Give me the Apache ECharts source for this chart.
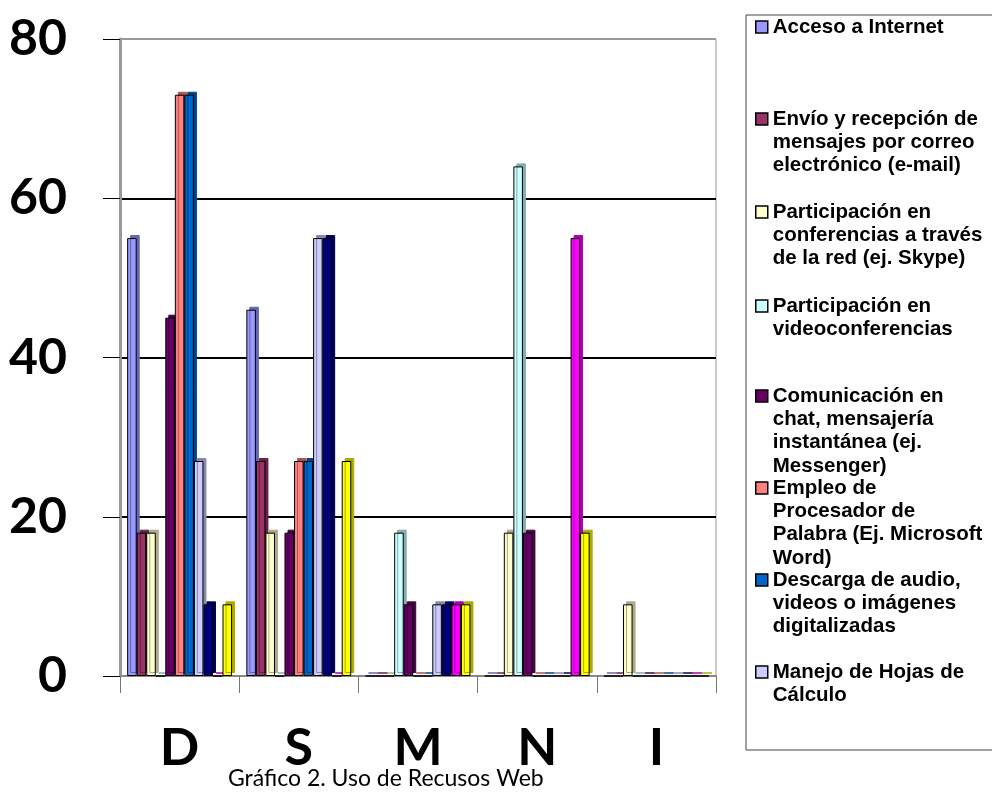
<!DOCTYPE html>
<html>
<head>
<meta charset="utf-8">
<script src="https://cdn.jsdelivr.net/npm/echarts@6/dist/echarts.min.js"></script>
<style>html,body{margin:0;padding:0;background:#fff}#c{width:992px;height:792px}</style>
</head>
<body>
<div id="c"></div>
<script>
var categories = ['D', 'S', 'M', 'N', 'I'];
var yTicks = [0, 20, 40, 60, 80];
var seriesNames = [
  'Acceso a Internet',
  'Envío y recepción de mensajes por correo electrónico (e-mail)',
  'Participación en conferencias a través de la red (ej. Skype)',
  'Participación en videoconferencias',
  'Comunicación en chat, mensajería instantánea (ej. Messenger)',
  'Empleo de Procesador de Palabra (Ej. Microsoft Word)',
  'Descarga de audio, videos o imágenes digitalizadas',
  'Manejo de Hojas de Cálculo',
  'Serie 9',
  'Serie 10',
  'Serie 11'
];
var legendLines = [
  ['Acceso a Internet'],
  ['Envío y recepción de', 'mensajes por correo', 'electrónico (e-mail)'],
  ['Participación en', 'conferencias a través', 'de la red (ej. Skype)'],
  ['Participación en', 'videoconferencias'],
  ['Comunicación en', 'chat, mensajería', 'instantánea (ej.', 'Messenger)'],
  ['Empleo de', 'Procesador de', 'Palabra (Ej. Microsoft', 'Word)'],
  ['Descarga de audio,', 'videos o imágenes', 'digitalizadas'],
  ['Manejo de Hojas de', 'Cálculo']
];
var s1 = [55, 46, 0, 0, 0];
var s2 = [18, 27, 0, 0, 0];
var s3 = [18, 18, 0, 18, 9];
var s4 = [0, 0, 18, 64, 0];
var s5 = [45, 18, 9, 18, 0];
var s6 = [73, 27, 0, 0, 0];
var s7 = [73, 27, 0, 0, 0];
var s8 = [27, 55, 9, 0, 0];
var s9 = [9, 55, 9, 0, 0];
var s10 = [0, 0, 9, 55, 0];
var s11 = [9, 27, 9, 18, 0];
var seriesValues = [s1, s2, s3, s4, s5, s6, s7, s8, s9, s10, s11];
var colors = ['#9999FF', '#993366', '#FFFFCC', '#CCFFFF', '#660066', '#FF8080', '#0066CC', '#CCCCFF', '#000080', '#FF00FF', '#FFFF00'];
var sideColors = ['#6666AA', '#662244', '#AAAA88', '#88AAAA', '#440044', '#AA5555', '#004488', '#8888AA', '#000055', '#AA00AA', '#AAAA00'];

var chart = echarts.init(document.getElementById('c'));

var series = seriesValues.map(function (vals, i) {
  return {
    name: seriesNames[i],
    type: 'bar',
    data: vals,
    barGap: '0%',
    barCategoryGap: '12%',
    itemStyle: {
      color: colors[i],
      borderColor: '#000',
      borderWidth: 1,
      shadowColor: sideColors[i],
      shadowOffsetX: 3,
      shadowOffsetY: -3,
      shadowBlur: 0
    },
    emphasis: { disabled: true },
    animation: false
  };
});

var legendCenters = [27, 119, 212, 306, 396, 488, 580, 672];
var LH = 23.3;
var legends = legendLines.map(function (lines, i) {
  var n = lines.length;
  var boxH = (2 * n - 1) * LH;
  var pad = [];
  for (var k = 1; k < n; k++) pad.push(' ');
  var text = pad.concat(lines).join('\n');
  return {
    data: [seriesNames[i]],
    orient: 'vertical',
    left: 755,
    top: legendCenters[i] - boxH / 2,
    itemWidth: 12,
    itemHeight: 12,
    itemGap: 0,
    padding: 0,
    selectedMode: false,
    icon: 'rect',
    itemStyle: { borderColor: '#000', borderWidth: 1.5 },
    formatter: function () { return text; },
    textStyle: {
      fontFamily: 'Liberation Sans',
      fontWeight: 'bold',
      fontSize: 20.5,
      color: '#000',
      lineHeight: LH
    }
  };
});

chart.setOption({
  backgroundColor: '#fff',
  animation: false,
  title: {
    text: 'Gráfico 2. Uso de Recusos Web',
    left: 228,
    top: 766,
    padding: 0,
    textStyle: { fontFamily: 'Lato', fontWeight: 'normal', fontSize: 23, color: '#000', lineHeight: 26 }
  },
  graphic: [{
    type: 'rect',
    shape: { x: 746, y: 15, width: 260, height: 735 },
    style: { fill: 'none', stroke: '#444', lineWidth: 1 },
    silent: true
  }],
  legend: legends,
  grid: {
    left: 120, right: 276, top: 39, bottom: 116,
    show: true, borderColor: '#999', borderWidth: 1, backgroundColor: '#fff'
  },
  xAxis: {
    type: 'category',
    data: categories,
    axisLine: { lineStyle: { color: '#888', width: 1.5 } },
    axisTick: { show: true, length: 17, lineStyle: { color: '#777', width: 1 } },
    axisLabel: {
      margin: 47,
      fontFamily: 'Lato', fontWeight: 'bold', fontSize: 52, color: '#000', lineHeight: 50
    }
  },
  yAxis: {
    type: 'value',
    min: yTicks[0],
    max: yTicks[yTicks.length - 1],
    interval: yTicks[1] - yTicks[0],
    axisLine: { show: true, lineStyle: { color: '#999', width: 3 } },
    axisTick: { show: true, length: 17, lineStyle: { color: '#000', width: 1 } },
    splitLine: { show: true, lineStyle: { color: ['#888', '#000', '#000', '#000', '#999'], width: 1.8 } },
    axisLabel: {
      margin: 53,
      fontFamily: 'Lato', fontWeight: 'bold', fontSize: 50, color: '#000'
    }
  },
  series: series
});
</script>
</body>
</html>
